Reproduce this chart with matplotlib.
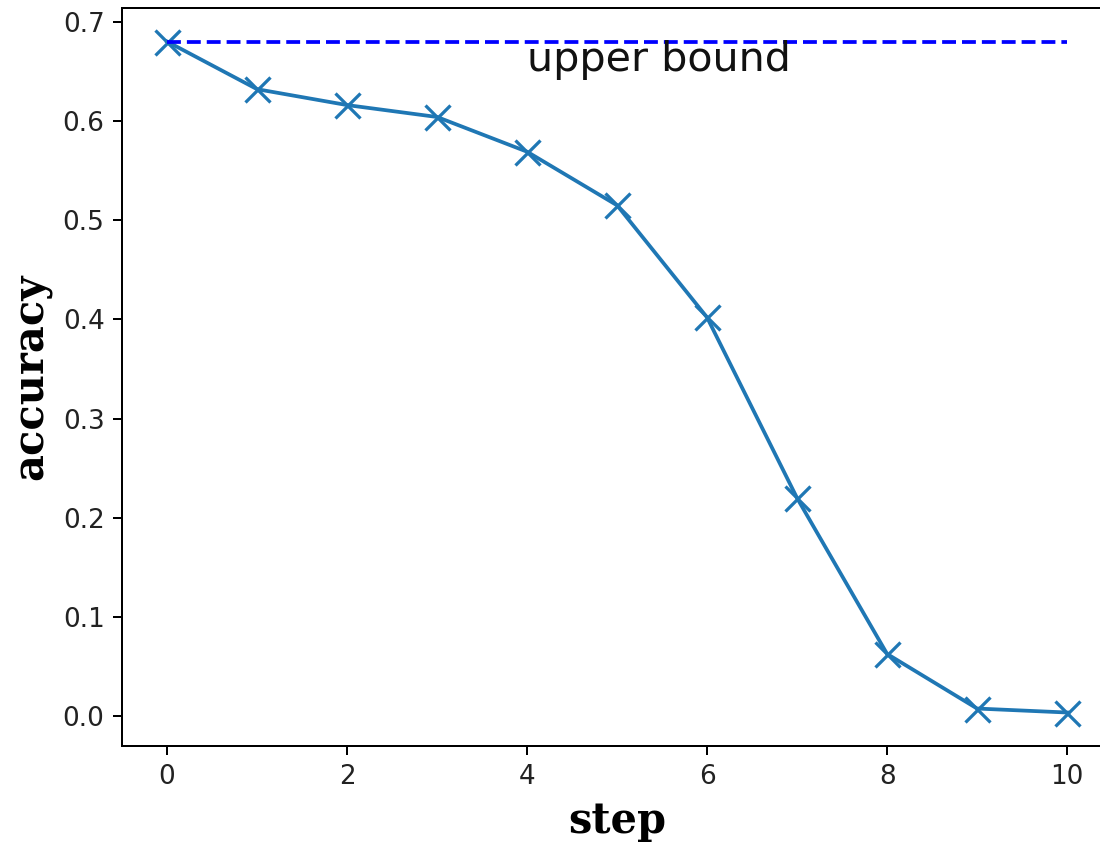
import numpy as np
from matplotlib import pyplot as plt

# values
steps = [0, 1, 2, 3, 4, 5, 6, 7, 8, 9, 10]
accuracy = [0.680, 0.632, 0.616, 0.604, 0.569, 0.515, 0.402, 0.220, 0.063, 0.008, 0.004]
upper_bound = 0.68

s = 1.8  # scale from a 180 dpi original down to 100 dpi

plt.rcParams['lines.linewidth'] = 1.5 * s
plt.rcParams['axes.linewidth'] = 0.8 * s
plt.rcParams['xtick.major.size'] = 3.5 * s
plt.rcParams['ytick.major.size'] = 3.5 * s
plt.rcParams['xtick.major.width'] = 0.8 * s
plt.rcParams['ytick.major.width'] = 0.8 * s
plt.rcParams['xtick.major.pad'] = 3.5 * s
plt.rcParams['ytick.major.pad'] = 3.5 * s
plt.rcParams['xtick.labelsize'] = 10.5 * s
plt.rcParams['ytick.labelsize'] = 10.5 * s
plt.rcParams['xtick.labelcolor'] = '#222222'
plt.rcParams['ytick.labelcolor'] = '#222222'
plt.rcParams['axes.labelpad'] = 4 * s

fig = plt.figure(figsize=(11, 8.43), dpi=100)
# the original was cropped on the right, so the axes run past the edge
ax = fig.add_axes([0.111, 0.115, 0.9, 0.8755])
ax.spines['right'].set_visible(False)

ax.plot(steps, accuracy, marker='x', markersize=10 * s, markeredgewidth=1.3 * s)
ax.plot([steps[0], steps[-1]], [upper_bound, upper_bound], 'b--')
ax.text(4, 0.65, 'upper bound', fontsize=16.5 * s, color='#111111')

ax.set_xlabel('step', family='DejaVu Serif', weight='bold', fontsize=16.6 * s)
ax.set_ylabel('accuracy', family='DejaVu Serif', weight='bold', fontsize=16.6 * s)
ax.set_xticks([0, 2, 4, 6, 8, 10])
ax.set_xlim(-0.5, 10.5)

fig.savefig('out.png', dpi=100)
